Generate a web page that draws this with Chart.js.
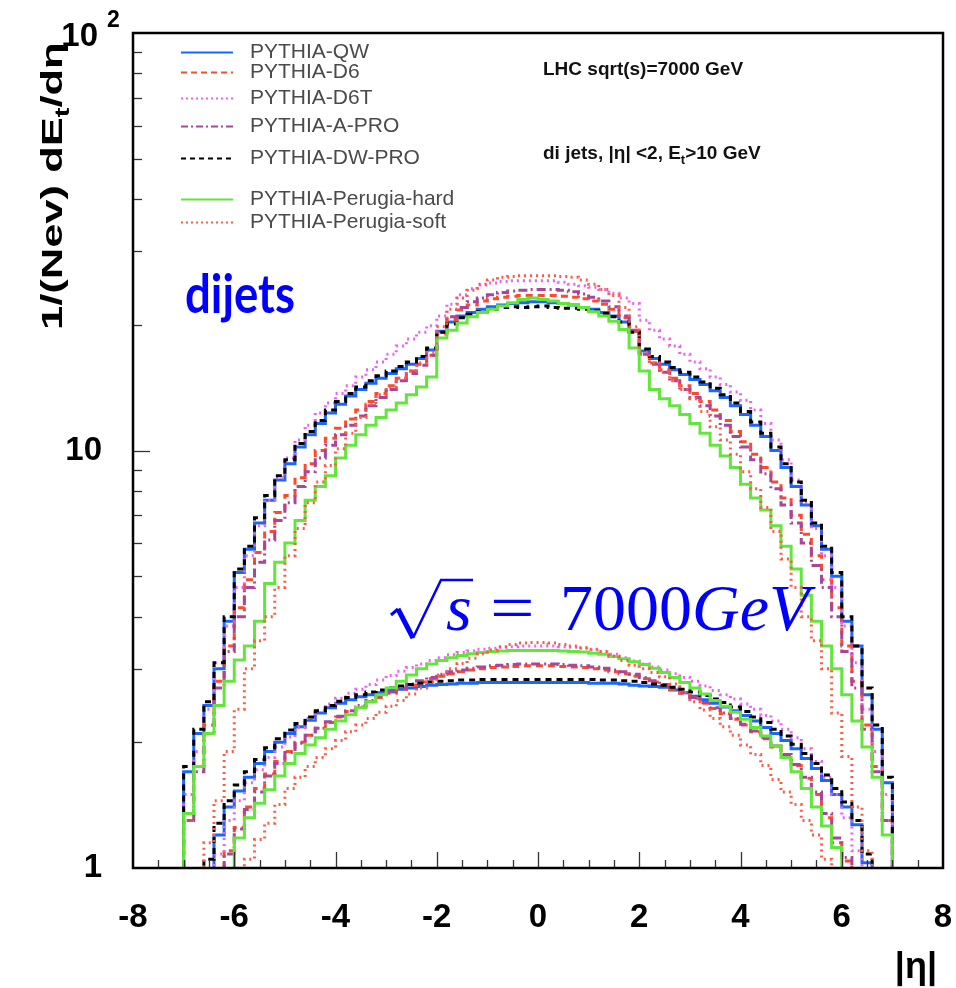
<!DOCTYPE html>
<html><head><meta charset="utf-8">
<script src="https://cdn.jsdelivr.net/npm/chart.js@4.4.1/dist/chart.umd.min.js"></script>
<style>html,body{margin:0;padding:0;background:#fff;}#wrap{width:956px;height:988px;}</style>
</head><body><div id="wrap"><canvas id="c" width="956" height="988"></canvas></div>
<script>
// ---- data: 70 bins of width 0.2 from eta=-7 to eta=7 ----
const seriesNames = ['PYTHIA-QW','PYTHIA-D6','PYTHIA-D6T','PYTHIA-A-PRO','PYTHIA-DW-PRO','PYTHIA-Perugia-hard','PYTHIA-Perugia-soft'];
const xTickValues = [-8,-6,-4,-2,0,2,4,6,8];
const xTickLabels = ['-8','-6','-4','-2','0','2','4','6','8'];
const yTickValues = [1,10];
const yTickLabels = ['1','10'];

// upper group: dijets
const qwDijet = [
1.7,2.1,2.45,3.0,3.9,5.1,5.8,6.7,7.6,8.5,
9.3,10.2,10.9,11.6,12.3,12.9,13.5,14.0,14.5,14.9,
15.3,15.7,16.1,16.6,17.4,19.3,20.3,21.0,21.4,21.8,
22.1,22.3,22.5,22.6,22.7,22.7,22.6,22.5,22.3,22.0,
21.8,21.4,21.0,20.3,19.3,17.3,16.6,16.1,15.6,15.2,
14.8,14.4,13.9,13.4,12.8,12.2,11.5,10.8,10.0,9.1,
8.2,7.4,6.6,5.8,5.0,3.9,3.4,2.6,2.15,1.6];
const d6Dijet = [
1.3,1.75,2.2,2.8,3.4,4.2,4.9,5.7,6.4,7.1,
7.8,8.6,9.3,10.0,10.7,11.3,11.9,12.5,13.1,13.7,
14.3,14.9,15.5,16.1,16.9,19.0,20.6,21.7,22.3,22.8,
23.1,23.3,23.4,23.5,23.5,23.5,23.5,23.4,23.3,23.1,
22.8,22.4,21.8,20.8,19.3,17.0,16.2,15.6,14.9,14.3,
13.7,13.1,12.5,11.8,11.1,10.5,9.8,9.1,8.4,7.7,
7.0,6.3,5.6,4.9,4.2,3.4,2.8,2.2,1.75,1.3];
const d6tDijet = [
1.5,1.9,2.4,3.1,3.8,4.7,5.6,6.6,7.6,8.6,
9.6,10.6,11.5,12.3,13.0,13.7,14.3,15.0,15.6,16.3,
17.0,17.8,18.5,19.2,19.9,21.0,22.4,23.6,24.4,24.9,
25.2,25.4,25.5,25.5,25.5,25.5,25.5,25.3,25.0,24.8,
24.6,24.3,23.8,23.2,22.5,20.5,19.4,18.5,17.8,17.0,
16.3,15.7,15.0,14.4,13.8,13.2,12.5,11.6,10.6,9.5,
8.5,7.5,6.5,5.6,4.7,3.8,3.1,2.4,1.9,1.5];
const aproDijet = [
1.3,1.7,2.1,2.7,3.3,4.0,4.7,5.4,6.1,6.8,
7.5,8.2,8.9,9.6,10.3,10.9,11.5,12.1,12.8,13.4,
14.0,14.7,15.3,16.0,16.9,19.2,20.9,22.0,22.7,23.2,
23.6,23.9,24.1,24.2,24.3,24.3,24.3,24.2,24.0,23.7,
23.3,22.8,22.1,21.0,19.4,17.0,16.1,15.4,14.7,14.0,
13.4,12.8,12.1,11.5,10.8,10.2,9.5,8.8,8.1,7.4,
6.7,6.0,5.3,4.7,4.0,3.3,2.7,2.15,1.7,1.3];
const dwproDijet = [
1.75,2.15,2.5,3.1,4.0,5.2,5.9,6.9,7.8,8.7,
9.5,10.4,11.1,11.8,12.5,13.1,13.7,14.2,14.7,15.1,
15.5,15.9,16.3,16.8,17.6,19.2,20.1,20.8,21.2,21.5,
21.8,22.0,22.1,22.0,22.1,22.2,22.0,21.9,21.9,21.8,
21.6,21.3,20.9,20.3,19.2,17.5,16.8,16.3,15.8,15.4,
15.0,14.6,14.1,13.6,13.0,12.4,11.7,11.0,10.2,9.3,
8.4,7.6,6.7,5.9,5.1,4.0,3.4,2.7,2.2,1.65];
const hardDijet = [
1.35,1.75,2.1,2.45,2.8,3.15,3.4,3.9,4.8,5.4,
6.0,6.8,7.6,8.2,8.7,9.6,10.3,10.9,11.5,12.0,
12.5,13.0,13.6,14.2,15.0,18.6,19.4,20.2,20.9,21.4,
21.8,22.2,22.6,23.0,23.2,23.0,22.8,22.5,22.3,22.0,
21.5,21.0,20.4,19.5,17.6,15.5,14.0,13.3,12.8,12.2,
11.6,11.0,10.3,9.7,9.1,8.3,7.7,7.2,6.6,5.9,
5.2,4.5,3.9,3.4,3.0,2.6,2.25,1.95,1.65,1.2];
const softDijet = [
0.6,0.85,1.15,1.45,1.9,2.4,3.0,3.5,4.0,4.7,
5.6,6.5,7.5,8.4,9.2,10.1,11.0,12.0,12.9,13.6,
14.2,14.9,15.5,16.2,17.2,19.8,21.8,23.2,24.2,25.0,
25.6,26.0,26.1,26.2,26.2,26.2,26.2,26.1,26.0,25.6,
25.0,24.3,23.5,22.0,19.8,17.2,16.2,15.4,14.7,14.0,
13.3,12.4,11.4,10.6,9.8,8.9,8.1,7.3,6.4,5.5,
4.7,4.0,3.5,3.0,2.35,1.85,1.4,1.1,0.8,0.6];

// lower group
const qwLow = [
0.5,0.6,0.98,1.2,1.4,1.53,1.65,1.78,1.9,2.0,
2.1,2.18,2.26,2.35,2.42,2.48,2.53,2.57,2.6,2.63,
2.66,2.68,2.7,2.72,2.74,2.75,2.76,2.77,2.77,2.78,
2.78,2.78,2.78,2.78,2.78,2.78,2.78,2.78,2.78,2.78,
2.77,2.77,2.77,2.76,2.74,2.73,2.72,2.71,2.67,2.63,
2.58,2.53,2.48,2.43,2.38,2.32,2.25,2.17,2.1,2.02,
1.93,1.83,1.73,1.62,1.5,1.4,1.27,1.03,0.7,0.5];
const d6Low = [
0.4,0.5,0.7,0.9,1.1,1.25,1.4,1.55,1.68,1.8,
1.9,2.0,2.08,2.16,2.23,2.3,2.37,2.43,2.5,2.56,
2.62,2.68,2.74,2.79,2.84,2.88,2.92,2.95,2.98,3.0,
3.02,3.03,3.04,3.05,3.05,3.05,3.05,3.04,3.03,3.02,
3.0,2.98,2.95,2.92,2.88,2.84,2.79,2.74,2.68,2.62,
2.55,2.48,2.41,2.34,2.27,2.2,2.12,2.04,1.95,1.86,
1.76,1.64,1.5,1.32,1.15,1.04,0.8,0.6,0.5,0.4];
const d6tLow = [
0.4,0.6,0.85,1.08,1.3,1.45,1.6,1.72,1.84,1.95,
2.06,2.17,2.28,2.38,2.47,2.55,2.62,2.68,2.75,2.82,
2.89,2.96,3.02,3.08,3.14,3.19,3.24,3.28,3.31,3.34,
3.36,3.38,3.39,3.4,3.4,3.4,3.4,3.39,3.38,3.36,
3.33,3.29,3.25,3.19,3.13,3.08,3.03,2.98,2.92,2.86,
2.8,2.73,2.66,2.6,2.54,2.47,2.4,2.32,2.25,2.15,
2.05,1.93,1.8,1.65,1.5,1.32,1.1,0.85,0.6,0.4];
const aproLow = [
0.4,0.5,0.7,0.9,1.08,1.24,1.38,1.52,1.66,1.78,
1.89,1.99,2.08,2.16,2.24,2.31,2.38,2.45,2.52,2.58,
2.64,2.7,2.76,2.81,2.86,2.91,2.95,2.98,3.01,3.03,
3.05,3.06,3.07,3.08,3.08,3.08,3.08,3.07,3.06,3.05,
3.03,3.01,2.98,2.95,2.91,2.86,2.81,2.75,2.69,2.63,
2.56,2.49,2.42,2.35,2.28,2.21,2.13,2.05,1.96,1.87,
1.77,1.65,1.52,1.35,1.18,1.06,0.85,0.6,0.5,0.4];
const dwproLow = [
0.5,0.7,1.05,1.28,1.45,1.58,1.7,1.82,1.94,2.04,
2.14,2.22,2.3,2.38,2.45,2.51,2.56,2.6,2.64,2.67,
2.7,2.73,2.75,2.77,2.79,2.8,2.81,2.82,2.82,2.83,
2.83,2.83,2.83,2.83,2.83,2.83,2.83,2.83,2.83,2.83,
2.83,2.82,2.82,2.81,2.8,2.78,2.76,2.74,2.71,2.68,
2.64,2.59,2.54,2.49,2.43,2.37,2.3,2.23,2.15,2.07,
1.98,1.88,1.78,1.67,1.55,1.44,1.3,1.08,0.7,0.5];
const hardLow = [
0.3,0.4,0.5,0.65,0.85,1.18,1.32,1.43,1.54,1.66,
1.78,1.88,1.97,2.05,2.15,2.25,2.33,2.42,2.5,2.6,
2.7,2.8,2.9,3.0,3.08,3.14,3.19,3.23,3.26,3.28,
3.3,3.31,3.32,3.32,3.32,3.32,3.32,3.31,3.3,3.29,
3.27,3.25,3.21,3.17,3.12,3.07,3.01,2.94,2.86,2.78,
2.7,2.61,2.52,2.44,2.36,2.27,2.17,2.07,1.96,1.84,
1.7,1.55,1.4,1.26,1.12,0.85,0.65,0.5,0.4,0.3];
const softLow = [
0.3,0.4,0.5,0.6,0.7,0.85,1.05,1.17,1.28,1.42,
1.55,1.65,1.75,1.84,1.93,2.02,2.12,2.2,2.28,2.36,
2.44,2.52,2.61,2.7,2.79,2.9,3.0,3.09,3.18,3.26,
3.33,3.39,3.43,3.46,3.47,3.47,3.46,3.43,3.4,3.37,
3.34,3.3,3.22,3.14,3.06,3.0,2.94,2.87,2.76,2.63,
2.5,2.39,2.28,2.18,2.08,1.97,1.87,1.76,1.63,1.52,
1.42,1.3,1.2,1.05,0.8,0.7,0.6,0.5,0.4,0.3];

const dijetSeries = [qwDijet,d6Dijet,d6tDijet,aproDijet,dwproDijet,hardDijet,softDijet];
const lowSeries = [qwLow,d6Low,d6tLow,aproLow,dwproLow,hardLow,softLow];

// ---- styles ----
const seriesColors = ['#1a66ff','#ff4a2a','#f060f0','#a8469a','#000000','#62e63c','#ff5a45'];
const seriesDash = [[],[7,5],[2,4],[9,4,2,4],[6,5],[],[2,4]];
const legendDash = [[],[6,4],[2,3],[7,3,2,3],[5,4],[],[2,3]];
const legendRowY = [52,72,98,126,158,199,222];

const etaEdges = [];
for (let i = 0; i <= 70; i++) etaEdges.push(Math.round((-7 + 0.2 * i) * 10) / 10);
const FLOOR = 0.1;
function histPoints(vals) {
  const pts = [{x: etaEdges[0], y: FLOOR}];
  for (let i = 0; i < vals.length; i++) pts.push({x: etaEdges[i], y: vals[i]});
  pts.push({x: etaEdges[vals.length], y: vals[vals.length - 1]});
  pts.push({x: etaEdges[vals.length], y: FLOOR});
  return pts;
}

const datasets = [];
for (let k = 0; k < 7; k++) {
  [dijetSeries[k], lowSeries[k]].forEach((vals, g) => {
    datasets.push({
      label: seriesNames[k] + (g === 0 ? ' dijets' : ''),
      data: histPoints(vals),
      borderColor: seriesColors[k],
      borderWidth: 3,
      borderDash: seriesDash[k],
      borderCapStyle: 'butt',
      borderJoinStyle: 'miter',
      stepped: true,
      fill: false,
      pointRadius: 0,
      tension: 0,
      clip: 0,
      order: 20 - k
    });
  });
}

const SANS = '"Liberation Sans", Arial, Helvetica, sans-serif';

const rootStyle = {
  id: 'rootStyle',
  beforeDraw(chart) {
    const c = chart.ctx;
    c.save(); c.fillStyle = '#fff'; c.fillRect(0, 0, chart.width, chart.height); c.restore();
  },
  afterDraw(chart) {
    const c = chart.ctx, ca = chart.chartArea;
    const xs = chart.scales.x, ys = chart.scales.y;
    c.save();
    // ticks
    c.strokeStyle = '#333'; c.lineWidth = 1.3;
    for (let v = -7.5; v <= 7.5; v += 0.5) {
      const px = Math.round(xs.getPixelForValue(v)) + 0.5;
      const len = (Math.abs(v % 2) < 1e-9) ? 16 : 8;
      c.beginPath(); c.moveTo(px, ca.bottom); c.lineTo(px, ca.bottom - len); c.stroke();
    }
    [1, 10].forEach(d => {
      for (let m = 1; m <= 9; m++) {
        const v = m * d; if (v === 1) continue;
        const py = Math.round(ys.getPixelForValue(v)) + 0.5;
        const len = (m === 1) ? 17 : 9;
        c.beginPath(); c.moveTo(ca.left, py); c.lineTo(ca.left + len, py); c.stroke();
      }
    });
    // frame
    c.strokeStyle = '#000'; c.lineWidth = 2.5;
    c.strokeRect(ca.left, ca.top, ca.right - ca.left, ca.bottom - ca.top);

    // x tick labels
    c.fillStyle = '#000';
    c.font = 'bold 33px ' + SANS;
    c.textAlign = 'center'; c.textBaseline = 'alphabetic';
    xTickValues.forEach((v, i) => c.fillText(xTickLabels[i], xs.getPixelForValue(v), 927));
    // y tick labels
    c.textAlign = 'right'; c.textBaseline = 'middle';
    yTickValues.forEach((v, i) => c.fillText(yTickLabels[i], 102, ys.getPixelForValue(v)));
    // 10^2
    c.textBaseline = 'alphabetic';
    c.fillText('10', 98, 46);
    c.textAlign = 'left'; c.font = 'bold 23px ' + SANS;
    c.fillText('2', 107, 27);

    // y title
    c.save();
    c.translate(62, 330); c.rotate(-Math.PI / 2); c.scale(1.45, 1);
    c.textAlign = 'left'; c.textBaseline = 'alphabetic';
    c.font = 'bold 30px ' + SANS;
    let x = 0;
    c.fillText('1/(Nev) dE', x, 0); x += c.measureText('1/(Nev) dE').width;
    c.font = 'bold 20px ' + SANS;
    c.fillText('t', x, 7); x += c.measureText('t').width;
    c.font = 'bold 30px ' + SANS;
    c.fillText('/d\u03B7', x, 0);
    c.restore();

    // x title
    c.font = 'bold 36px ' + SANS; c.textAlign = 'right';
    c.fillText('|\u03B7|', 937, 978);

    // legend
    for (let k = 0; k < 7; k++) {
      const y = legendRowY[k];
      c.strokeStyle = seriesColors[k]; c.lineWidth = 2; c.setLineDash(legendDash[k]);
      c.beginPath(); c.moveTo(181, y + 0.5); c.lineTo(233, y + 0.5); c.stroke();
      c.setLineDash([]);
      c.fillStyle = '#4a4a4a'; c.font = '21px ' + SANS; c.textAlign = 'left'; c.textBaseline = 'middle';
      c.fillText(seriesNames[k], 250, y);
    }

    // info texts
    c.fillStyle = '#111'; c.textBaseline = 'alphabetic'; c.textAlign = 'left';
    c.font = 'bold 19px ' + SANS;
    c.fillText('LHC sqrt(s)=7000 GeV', 543, 75);
    let tx = 543;
    c.fillText('di jets, |\u03B7| <2, E', tx, 159); tx += c.measureText('di jets, |\u03B7| <2, E').width;
    c.font = 'bold 13px ' + SANS; c.fillText('t', tx, 164); tx += c.measureText('t').width;
    c.font = 'bold 19px ' + SANS; c.fillText('>10 GeV', tx, 159);

    // dijets label
    c.fillStyle = '#0000ff';
    c.save();
    c.font = 'bold 46px Lato, "Open Sans", sans-serif';
    const wd = c.measureText('dijets').width;
    c.translate(185, 313); c.scale(110 / wd, 1.15);
    c.fillText('dijets', 0, 0);
    c.restore();

    // sqrt(s) = 7000GeV
    c.strokeStyle = '#0000ff'; c.lineCap = 'butt'; c.lineJoin = 'miter';
    c.lineWidth = 3;
    c.beginPath(); c.moveTo(391, 615); c.lineTo(398, 609); c.stroke();
    c.lineWidth = 5;
    c.beginPath(); c.moveTo(398, 609); c.lineTo(413, 638); c.stroke();
    c.lineWidth = 2.5;
    c.beginPath(); c.moveTo(413, 638); c.lineTo(441, 580); c.lineTo(473, 580); c.stroke();
    c.font = 'italic 66px "Liberation Serif", "Times New Roman", serif';
    c.fillText('s', 446, 630);
    c.font = '66px "Liberation Serif", "Times New Roman", serif';
    c.save(); c.translate(490, 630); c.scale(1.2, 1); c.fillText('=', 0, 0); c.restore();
    c.fillText('7000', 560, 630);
    const w7 = c.measureText('7000').width;
    c.font = 'italic 66px "Liberation Serif", "Times New Roman", serif';
    c.fillText('GeV', 560 + w7, 630);
    c.restore();
  }
};

new Chart(document.getElementById('c').getContext('2d'), {
  type: 'line',
  data: { datasets },
  options: {
    responsive: false, animation: false, devicePixelRatio: 1,
    layout: { padding: { left: 133, right: 13, top: 33, bottom: 120 } },
    plugins: { legend: { display: false }, tooltip: { enabled: false }, title: { display: false } },
    scales: {
      x: { type: 'linear', min: -8, max: 8, display: false },
      y: { type: 'logarithmic', min: 1, max: 100, display: false }
    },
    elements: { point: { radius: 0 }, line: { tension: 0 } }
  },
  plugins: [rootStyle]
});
</script></body></html>
